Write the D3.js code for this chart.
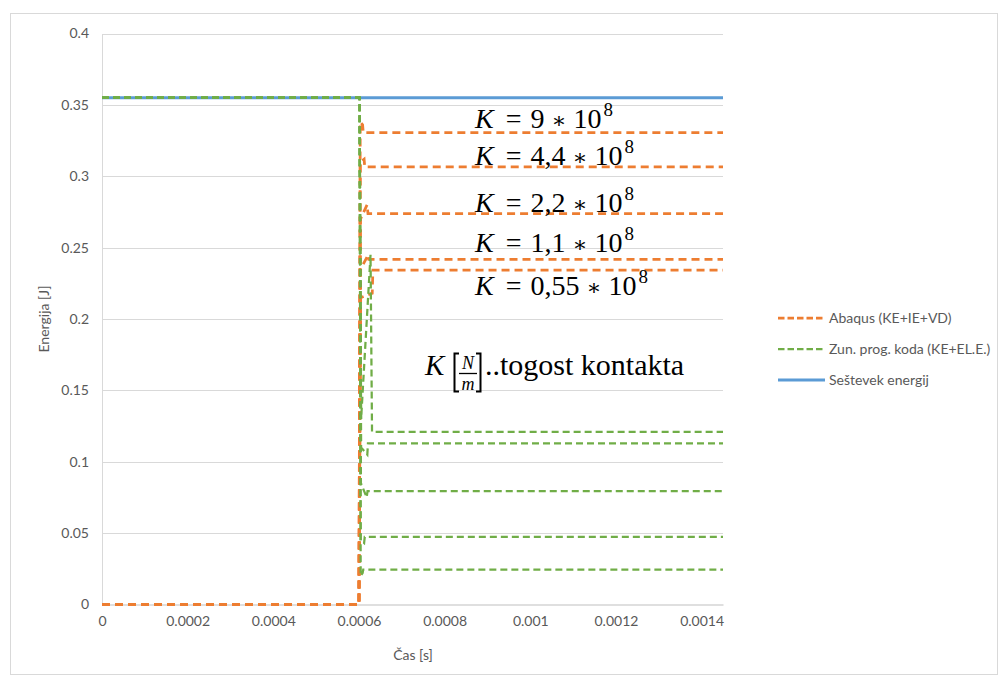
<!DOCTYPE html>
<html>
<head>
<meta charset="utf-8">
<script src="https://cdn.jsdelivr.net/npm/d3@7"></script>
<style>
  html, body { margin: 0; padding: 0; background: #fff; }
  svg { display: block; }
</style>
</head>
<body>
<svg id="chart" width="1003" height="678"></svg>
<script>
// Axis ticks
const xTicks = [0, 0.0002, 0.0004, 0.0006, 0.0008, 0.001, 0.0012, 0.0014];
const yTicks = [0, 0.05, 0.1, 0.15, 0.2, 0.25, 0.3, 0.35, 0.4];

// Contact stiffness labels (K * 10^8 N/m)
const stiffness = ["9", "4,4", "2,2", "1,1", "0,55"];

// Abaqus (KE+IE+VD) energy [J] vs time [s], one series per stiffness
const abaqusK9   = [[0, 0], [0.0006, 0], [0.000603, 0.338], [0.0006085, 0.336], [0.00061, 0.3306], [0.00145, 0.3306]];
const abaqusK44  = [[0, 0], [0.0006, 0], [0.000603, 0.31], [0.000612, 0.312], [0.0006135, 0.3066], [0.00145, 0.3066]];
const abaqusK22  = [[0, 0], [0.0006, 0], [0.0006035, 0.27], [0.000619, 0.28], [0.000621, 0.2739], [0.00145, 0.2739]];
const abaqusK11  = [[0, 0], [0.0006, 0], [0.000604, 0.235], [0.0006215, 0.245], [0.000623, 0.2417], [0.00145, 0.2417]];
const abaqusK055 = [[0, 0], [0.0006, 0], [0.000604, 0.215], [0.000631, 0.218], [0.0006325, 0.2342], [0.00145, 0.2342]];

// External program code (KE+EL.E.) energy [J] vs time [s]
const zunK9   = [[0, 0.355], [0.0006015, 0.355], [0.000604, 0.02], [0.0006085, 0.022], [0.00061, 0.0245], [0.00145, 0.0245]];
const zunK44  = [[0, 0.355], [0.0006015, 0.355], [0.000604, 0.045], [0.000612, 0.043], [0.0006135, 0.0474], [0.00145, 0.0474]];
const zunK22  = [[0, 0.355], [0.0006015, 0.355], [0.0006045, 0.085], [0.000618, 0.075], [0.00062, 0.0794], [0.00145, 0.0794]];
const zunK11  = [[0, 0.355], [0.0006015, 0.355], [0.000605, 0.11], [0.0006195, 0.105], [0.000621, 0.1128], [0.00145, 0.1128]];
const zunK055 = [[0, 0.355], [0.0006015, 0.355], [0.000605, 0.13], [0.000627, 0.245], [0.0006305, 0.1209], [0.00145, 0.1209]];

// Sum of energies [J]
const totalEnergy = [[0, 0.355], [0.00145, 0.355]];

const abaqusSeries = [abaqusK9, abaqusK44, abaqusK22, abaqusK11, abaqusK055];
const zunSeries = [zunK9, zunK44, zunK22, zunK11, zunK055];

const legendNames = ["Abaqus (KE+IE+VD)", "Zun. prog. koda (KE+EL.E.)", "Seštevek energij"];

const COL_ORANGE = "#ED7D31", COL_GREEN = "#70AD47", COL_BLUE = "#5B9BD5";
const TEXT = "#595959", GRID = "#D9D9D9";
const SANS = "Lato, 'Liberation Sans', sans-serif";
const SERIF = "'Liberation Serif', 'DejaVu Serif', serif";

const svg = d3.select("#chart");

// outer chart frame
svg.append("rect")
  .attr("x", 10.5).attr("y", 13.5).attr("width", 987).attr("height", 661)
  .attr("fill", "#fff").attr("stroke", "#D9D9D9").attr("stroke-width", 1);

const x = d3.scaleLinear().domain([0, 0.00145]).range([102, 723]);
const y = d3.scaleLinear().domain([0, 0.4]).range([604.5, 33.5]);

// horizontal gridlines
svg.append("g")
  .selectAll("line").data(yTicks.filter(d => d > 0)).join("line")
  .attr("x1", x(0)).attr("x2", x.range()[1])
  .attr("y1", d => Math.round(y(d)) + 0.5).attr("y2", d => Math.round(y(d)) + 0.5)
  .attr("stroke", GRID).attr("stroke-width", 1);

// y axis
const yAxis = svg.append("g")
  .attr("transform", `translate(${x(0)},0)`)
  .call(d3.axisLeft(y).tickValues(yTicks).tickSize(0).tickPadding(13).tickFormat(d => String(d)));
yAxis.select(".domain").attr("stroke", GRID).attr("stroke-width", 1);
yAxis.selectAll("text").attr("font-family", SANS).attr("font-size", 14).attr("fill", TEXT);

// x axis
const xAxis = svg.append("g")
  .attr("transform", `translate(0,${y(0)})`)
  .call(d3.axisBottom(x).tickValues(xTicks).tickSize(0).tickPadding(12).tickFormat(d => String(d)));
xAxis.select(".domain").attr("stroke", "#BFBFBF").attr("stroke-width", 1);
xAxis.selectAll("text").attr("font-family", SANS).attr("font-size", 14).attr("fill", TEXT);

// axis titles
svg.append("text")
  .attr("x", 413).attr("y", 660).attr("text-anchor", "middle")
  .attr("font-family", SANS).attr("font-size", 14).attr("fill", TEXT)
  .text("Čas [s]");
svg.append("text")
  .attr("transform", "translate(49,319) rotate(-90)").attr("text-anchor", "middle")
  .attr("font-family", SANS).attr("font-size", 14).attr("fill", TEXT)
  .text("Energija [J]");

const line = d3.line().x(d => x(d[0])).y(d => y(d[1]));

const plot = svg.append("g");

// total energy (drawn underneath)
plot.append("path").datum(totalEnergy)
  .attr("d", line).attr("fill", "none")
  .attr("stroke", COL_BLUE).attr("stroke-width", 3);

// Abaqus series
plot.selectAll(".abaqus").data(abaqusSeries).join("path")
  .attr("class", "abaqus")
  .attr("d", line).attr("fill", "none")
  .attr("stroke", COL_ORANGE).attr("stroke-width", 2.75)
  .attr("stroke-dasharray", "8,5");

// external code series
plot.selectAll(".zun").data(zunSeries).join("path")
  .attr("class", "zun")
  .attr("d", line).attr("fill", "none")
  .attr("stroke", COL_GREEN).attr("stroke-width", 2.25)
  .attr("stroke-dasharray", "7,4");

// stiffness annotations
const labelBaselines = [128, 165, 212, 252, 295];
stiffness.forEach((k, i) => {
  const t = svg.append("text")
    .attr("x", 475).attr("y", labelBaselines[i])
    .attr("font-family", SERIF).attr("font-size", 28).attr("fill", "#000");
  t.append("tspan").attr("font-style", "italic").text("K");
  t.append("tspan").attr("dx", 12).text("=");
  t.append("tspan").attr("dx", 9).text(k);
  t.append("tspan").attr("dx", 7).attr("font-family", "'DejaVu Serif', serif").attr("font-size", 22).text("∗");
  t.append("tspan").attr("dx", 7).text("10");
  t.append("tspan").attr("dx", 2).attr("dy", -12).attr("font-size", 19).text("8");
});

// "K [N/m]..togost kontakta"
const note = svg.append("g");
note.append("text")
  .attr("x", 425).attr("y", 375)
  .attr("font-family", SERIF).attr("font-size", 29).attr("font-style", "italic")
  .text("K");
note.append("path")
  .attr("d", "M459,353.5 H454.5 V391.5 H459 M476,353.5 H480.5 V391.5 H476")
  .attr("fill", "none").attr("stroke", "#000").attr("stroke-width", 2);
note.append("text")
  .attr("x", 468).attr("y", 369).attr("text-anchor", "middle")
  .attr("font-family", SERIF).attr("font-size", 18).attr("font-style", "italic")
  .text("N");
note.append("line")
  .attr("x1", 459).attr("x2", 477).attr("y1", 373.5).attr("y2", 373.5)
  .attr("stroke", "#000").attr("stroke-width", 1.3);
note.append("text")
  .attr("x", 468).attr("y", 390).attr("text-anchor", "middle")
  .attr("font-family", SERIF).attr("font-size", 18).attr("font-style", "italic")
  .text("m");
note.append("text")
  .attr("x", 485).attr("y", 375)
  .attr("font-family", SERIF).attr("font-size", 30)
  .text("..togost kontakta");

// legend
const legendStyles = [
  { color: COL_ORANGE, width: 2.75, dash: "6.5,3" },
  { color: COL_GREEN, width: 2.25, dash: "6.5,3" },
  { color: COL_BLUE, width: 3, dash: null }
];
const legend = svg.append("g").attr("transform", "translate(778,318)");
legendNames.forEach((name, i) => {
  const row = legend.append("g").attr("transform", `translate(0,${i * 31})`);
  row.append("line")
    .attr("x1", 0).attr("x2", 47).attr("y1", 0).attr("y2", 0)
    .attr("stroke", legendStyles[i].color).attr("stroke-width", legendStyles[i].width)
    .attr("stroke-dasharray", legendStyles[i].dash);
  row.append("text")
    .attr("x", 51).attr("y", 5)
    .attr("font-family", SANS).attr("font-size", 14).attr("fill", TEXT)
    .text(name);
});
</script>
</body>
</html>
